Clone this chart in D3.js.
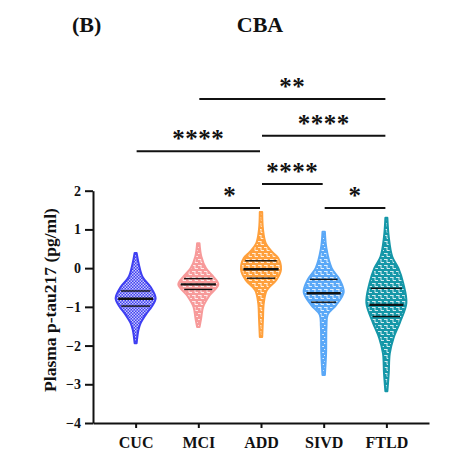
<!DOCTYPE html>
<html>
<head>
<meta charset="utf-8">
<script src="https://cdn.jsdelivr.net/npm/d3@7"></script>
<style>
  body { margin: 0; background: #fff; }
</style>
</head>
<body>
<div id="chart"></div>
<script>
// groups and colours
var groups = ["CUC", "MCI", "ADD", "SIVD", "FTLD"];
var colors = ["#3f3ff2", "#f79a9a", "#ffa03c", "#5aa8f7", "#1597a8"];

// quartiles
var medians = [-0.79, -0.42, -0.03, -0.65, -0.95];
var q1 = [-0.98, -0.55, -0.26, -0.88, -1.25];
var q3 = [-0.59, -0.27, 0.19, -0.29, -0.52];

// density profile: [value, relative density]
var cucDensity = [[0.39,0.05],[0.1,0.16],[-0.23,0.35],[-0.49,0.75],[-0.78,1],[-1.0,0.8],[-1.17,0.55],[-1.42,0.25],[-1.6,0.14],[-1.94,0.05]];
var mciDensity = [[0.64,0.06],[0.3,0.15],[0,0.38],[-0.2,0.72],[-0.42,1],[-0.7,0.57],[-1.0,0.24],[-1.3,0.14],[-1.52,0.06]];
var addDensity = [[1.45,0.06],[1.0,0.1],[0.64,0.24],[0.41,0.57],[0.26,0.86],[-0.03,1],[-0.31,0.76],[-0.57,0.29],[-0.9,0.14],[-1.3,0.1],[-1.78,0.06]];
var sivdDensity = [[0.94,0.06],[0.5,0.14],[0,0.4],[-0.3,0.8],[-0.62,1],[-0.95,0.63],[-1.2,0.2],[-1.5,0.14],[-2.2,0.12],[-2.76,0.06]];
var ftldDensity = [[1.3,0.05],[0.8,0.12],[0.3,0.29],[0,0.6],[-0.4,0.85],[-0.9,1],[-1.4,0.68],[-1.8,0.36],[-2.2,0.17],[-2.7,0.12],[-3.18,0.05]];
var densities = [cucDensity, mciDensity, addDensity, sivdDensity, ftldDensity];

// significance brackets: from, to, level (axis units), label
var bracketFrom = ["MCI", "ADD", "CUC", "ADD", "MCI", "SIVD"];
var bracketTo = ["FTLD", "FTLD", "ADD", "SIVD", "ADD", "FTLD"];
var bracketLevel = [4.37, 3.42, 3.02, 2.17, 1.55, 1.55];
var bracketLabel = ["**", "****", "****", "****", "*", "*"];

var yTicks = [-4, -3, -2, -1, 0, 1, 2];

var width = 464, height = 475;
var serif = "'Liberation Serif', 'Times New Roman', Times, serif";

var svg = d3.select("#chart").append("svg")
    .attr("width", width)
    .attr("height", height);

var x = d3.scalePoint()
    .domain(groups)
    .range([93, 429])
    .padding(0.68);

var y = d3.scaleLinear()
    .domain([-4, 2])
    .range([423, 190.7]);

var w = d3.scaleLinear()
    .domain([0, 1])
    .range([0, 20]);

// fill patterns
var defs = svg.append("defs");
groups.forEach(function(g, i) {
  var p = defs.append("pattern")
      .attr("id", "pat" + i)
      .attr("patternUnits", "userSpaceOnUse")
      .attr("width", i === 0 ? 3 : 6)
      .attr("height", i === 0 ? 3 : 6);
  p.append("rect").attr("width", 6).attr("height", 6).attr("fill", colors[i]);
  if (i === 0) {
    // fine checkerboard
    p.append("rect").attr("x", 0).attr("y", 0).attr("width", 1.5).attr("height", 1.5).attr("fill", "#c8c8fb");
    p.append("rect").attr("x", 1.5).attr("y", 1.5).attr("width", 1.5).attr("height", 1.5).attr("fill", "#c8c8fb");
  } else {
    p.append("path")
        .attr("d", "M0,1.5h3.5M3,4.5h3M3,1.5v3")
        .attr("stroke", "#fff")
        .attr("stroke-opacity", 0.8)
        .attr("stroke-width", 1)
        .attr("fill", "none");
  }
});

function densityAt(prof, v) {
  for (var k = 0; k < prof.length - 1; k++) {
    var a = prof[k], b = prof[k + 1];
    if (v <= a[0] && v >= b[0]) {
      return a[1] + (b[1] - a[1]) * (a[0] - v) / (a[0] - b[0]);
    }
  }
  return 0;
}

// violins
groups.forEach(function(g, i) {
  var cx = x(g);
  var area = d3.area()
      .curve(d3.curveCatmullRom.alpha(0.5))
      .y(function(d) { return y(d[0]); })
      .x0(function(d) { return cx - w(d[1]); })
      .x1(function(d) { return cx + w(d[1]); });

  svg.append("path")
      .datum(densities[i])
      .attr("d", area)
      .attr("fill", "url(#pat" + i + ")")
      .attr("stroke", colors[i])
      .attr("stroke-width", 2)
      .attr("stroke-linejoin", "round");

  [[q3[i], 1.4], [medians[i], 2.4], [q1[i], 1.4]].forEach(function(q) {
    var hw = w(densityAt(densities[i], q[0])) * 0.88;
    svg.append("line")
        .attr("x1", cx - hw).attr("x2", cx + hw)
        .attr("y1", y(q[0])).attr("y2", y(q[0]))
        .attr("stroke", "#111")
        .attr("stroke-width", q[1]);
  });
});

// axes
var yAxis = svg.append("g")
    .attr("transform", "translate(93,0)")
    .call(d3.axisLeft(y).tickValues(yTicks).tickFormat(d3.format("d"))
      .tickSize(8).tickSizeOuter(0).tickPadding(4));

var xAxis = svg.append("g")
    .attr("transform", "translate(0,423)")
    .call(d3.axisBottom(x).tickSize(5).tickSizeOuter(0).tickPadding(9));

yAxis.selectAll("text").style("font-size", "14px");
xAxis.selectAll("text").style("font-size", "16px");

svg.selectAll(".domain, .tick line")
    .attr("stroke", "#111")
    .attr("stroke-width", 2);

// brackets
bracketLabel.forEach(function(lab, i) {
  var x1 = x(bracketFrom[i]) + 1, x2 = x(bracketTo[i]) - 1;
  var ly = y(bracketLevel[i]);
  svg.append("line")
      .attr("x1", x1).attr("x2", x2)
      .attr("y1", ly).attr("y2", ly)
      .attr("stroke", "#111")
      .attr("stroke-width", 2);
  svg.append("text")
      .attr("x", (x1 + x2) / 2)
      .attr("y", ly - 4)
      .attr("text-anchor", "middle")
      .style("font-size", "25px")
      .style("letter-spacing", "0.5px")
      .text(lab);
});

// titles
svg.append("text")
    .attr("x", 72).attr("y", 31.5)
    .style("font-size", "22px")
    .text("(B)");

svg.append("text")
    .attr("x", 260).attr("y", 31.5)
    .attr("text-anchor", "middle")
    .style("font-size", "22px")
    .text("CBA");

svg.append("text")
    .attr("transform", "translate(56,300) rotate(-90)")
    .attr("text-anchor", "middle")
    .style("font-size", "17.5px")
    .text("Plasma p-tau217 (pg/ml)");

svg.selectAll("text")
    .style("font-family", serif)
    .style("font-weight", "bold")
    .attr("fill", "#111");
</script>
</body>
</html>
